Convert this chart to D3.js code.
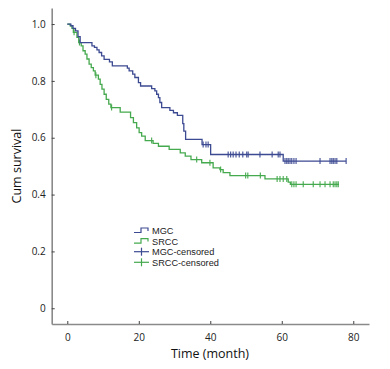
<!DOCTYPE html>
<html><head><meta charset="utf-8">
<script src="https://cdn.jsdelivr.net/npm/d3@7/dist/d3.min.js"></script>
<style>body{margin:0;background:#fff;} svg{display:block;}</style>
</head><body><svg id="c" width="390" height="369"></svg>
<script>
// ---- data ----
const mgcTimes = [1.0, 1.6, 2.3, 3.0, 3.6, 6.9, 7.6, 8.3, 8.9, 9.6, 10.3, 11.8, 12.6, 16.8, 17.3, 18.3, 18.9, 19.9, 20.5, 23.6, 24.5, 25.0, 25.5, 25.9, 26.4, 28.7, 29.7, 30.8, 32.3, 32.6, 33.1, 37.7, 40.1, 60.4];
const mgcSurv  = [0.994, 0.985, 0.976, 0.956, 0.935, 0.923, 0.918, 0.909, 0.900, 0.888, 0.876, 0.867, 0.853, 0.845, 0.835, 0.824, 0.812, 0.794, 0.782, 0.773, 0.765, 0.753, 0.741, 0.724, 0.706, 0.696, 0.688, 0.679, 0.650, 0.623, 0.594, 0.576, 0.541, 0.518];
const mgcCensored = [38.0, 38.8, 39.4, 45.0, 45.7, 46.4, 47.2, 48.1, 49.1, 50.2, 50.6, 53.9, 57.3, 59.0, 59.5, 60.9, 61.4, 61.8, 62.3, 62.8, 63.4, 64.0, 70.7, 73.5, 74.0, 74.4, 74.9, 75.4, 78.0];
const mgcEnd = 78.0;

const srccTimes = [0.8, 1.3, 1.7, 2.7, 3.2, 3.9, 4.4, 5.0, 5.5, 6.1, 6.7, 7.3, 7.8, 8.7, 9.2, 9.7, 10.3, 10.9, 11.6, 12.2, 14.8, 17.7, 18.5, 19.4, 20.1, 20.8, 21.8, 24.0, 25.5, 28.5, 31.6, 33.0, 34.6, 37.6, 40.8, 42.7, 43.6, 45.5, 55.3, 61.8, 62.4];
const srccSurv  = [0.994, 0.985, 0.971, 0.953, 0.935, 0.923, 0.906, 0.894, 0.877, 0.859, 0.847, 0.835, 0.820, 0.806, 0.788, 0.771, 0.753, 0.735, 0.718, 0.706, 0.690, 0.671, 0.653, 0.635, 0.618, 0.606, 0.590, 0.580, 0.570, 0.559, 0.547, 0.535, 0.523, 0.512, 0.494, 0.488, 0.477, 0.467, 0.455, 0.444, 0.436];
const srccCensored = [1.9, 3.4, 8.0, 12.4, 23.6, 36.2, 39.9, 42.9, 49.9, 50.5, 54.0, 58.7, 59.5, 60.4, 61.4, 62.8, 63.4, 64.0, 66.0, 68.8, 70.7, 72.1, 73.5, 74.4, 74.9, 75.4, 75.8];
const srccEnd = 76.0;

const xTicks = [0, 20, 40, 60, 80];
const yTicks = [0, 0.2, 0.4, 0.6, 0.8, 1.0];
const legendLabels = ["MGC", "SRCC", "MGC-censored", "SRCC-censored"];

// ---- drawing ----
const svg = d3.select("#c");
const blue = "#3c4a92", green = "#45a94e", axisCol = "#8a8a8a";
const x = d3.scaleLinear().domain([-4.36, 84.4]).range([51.7, 369]);
const y = d3.scaleLinear().domain([-0.0554, 1.0565]).range([324, 8]);

const xa = svg.append("g").attr("transform", "translate(0,324)")
  .call(d3.axisBottom(x).tickValues(xTicks).tickSize(-3).tickPadding(8).tickSizeOuter(0).tickFormat(d3.format("d")));
const ya = svg.append("g").attr("transform", "translate(51.7,0)")
  .call(d3.axisLeft(y).tickValues(yTicks).tickSize(-3).tickPadding(6).tickSizeOuter(0)
    .tickFormat(d => d === 0 ? "0" : d3.format(".1f")(d)));
[xa, ya].forEach(a => {
  a.select(".domain").attr("stroke", axisCol).attr("stroke-width", 1.6);
  a.selectAll(".tick line").attr("stroke", "#444").attr("stroke-width", 1);
  a.selectAll("text").attr("font-family", "'Open Sans', sans-serif").attr("font-size", 10).attr("fill", "#222");
});
xa.selectAll("text").attr("dy", "0.9em");

function steps(times, surv, end) {
  const pts = [[0, 1]];
  times.forEach((t, i) => pts.push([t, surv[i]]));
  pts.push([end, surv[surv.length - 1]]);
  return pts;
}
function survAt(times, surv, t) {
  let s = 1;
  times.forEach((tt, i) => { if (tt <= t) s = surv[i]; });
  return s;
}
const line = d3.line().x(d => x(d[0])).y(d => y(d[1])).curve(d3.curveStepAfter);

function drawCurve(times, surv, end, cens, col) {
  svg.append("path").attr("d", line(steps(times, surv, end)))
    .attr("fill", "none").attr("stroke", col).attr("stroke-width", 1.3);
  svg.append("g").selectAll("line").data(cens).join("line")
    .attr("x1", d => x(d)).attr("x2", d => x(d))
    .attr("y1", d => y(survAt(times, surv, d)) - 3)
    .attr("y2", d => y(survAt(times, surv, d)) + 3)
    .attr("stroke", col).attr("stroke-width", 1.1);
}
drawCurve(srccTimes, srccSurv, srccEnd, srccCensored, green);
drawCurve(mgcTimes, mgcSurv, mgcEnd, mgcCensored, blue);

// legend
const lg = svg.append("g").attr("transform", "translate(134,230.5)");
const cols = [blue, green, blue, green];
legendLabels.forEach((lab, i) => {
  const g = lg.append("g").attr("transform", `translate(0,${i * 10.6})`);
  if (i < 2) {
    g.append("path").attr("d", "M0,2 H7 V-2.5 H14 V0.5").attr("fill", "none")
      .attr("stroke", cols[i]).attr("stroke-width", 1.2);
  } else {
    g.append("line").attr("x1", 0).attr("x2", 15).attr("y1", 0).attr("y2", 0).attr("stroke", cols[i]).attr("stroke-width", 1.2);
    g.append("line").attr("x1", 7.5).attr("x2", 7.5).attr("y1", -4).attr("y2", 4).attr("stroke", cols[i]).attr("stroke-width", 1.2);
  }
  g.append("text").attr("x", 18).attr("y", 3.4).text(lab)
    .attr("font-family", "'Liberation Sans', Arial, sans-serif").attr("font-size", 9.2).attr("fill", "#222");
});

// axis titles
svg.append("text").attr("x", 210).attr("y", 358).attr("text-anchor", "middle")
  .attr("font-family", "'Open Sans', sans-serif").attr("font-size", 12.5).attr("fill", "#111").text("Time (month)");
svg.append("text").attr("transform", "translate(21,166) rotate(-90)").attr("text-anchor", "middle")
  .attr("font-family", "'Open Sans', sans-serif").attr("font-size", 12.5).attr("fill", "#111").text("Cum survival");
</script></body></html>
